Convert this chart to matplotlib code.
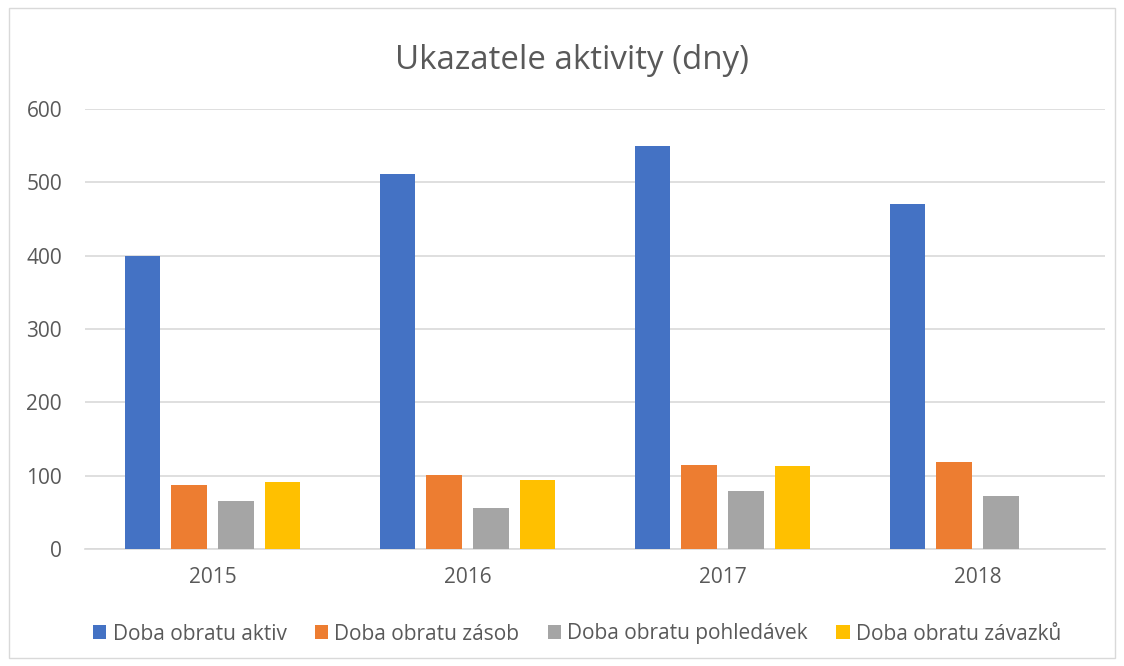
import numpy as np
import matplotlib.pyplot as plt
from matplotlib.patches import Rectangle

# data
years = ['2015', '2016', '2017', '2018']
series_names = ['Doba obratu aktiv', 'Doba obratu zásob',
                'Doba obratu pohledávek', 'Doba obratu závazků']
aktiv = [400, 512, 550, 470]
zasob = [87, 101, 114, 118]
pohledavek = [65, 56, 79, 72]
zavazku = [92, 94, 113, 0]
colors = ['#4472C4', '#ED7D31', '#A5A5A5', '#FFC000']

plt.rcParams['font.family'] = ['Open Sans', 'DejaVu Sans']
text_color = '#595959'

fig = plt.figure(figsize=(11.24, 6.66), dpi=100)
ax = fig.add_axes([85 / 1124, 1 - 549 / 666, 1020 / 1124, 440 / 666])

x = np.arange(len(years))
width = 0.141
stride = 0.183
values = [aktiv, zasob, pohledavek, zavazku]
for i, (name, vals, c) in enumerate(zip(series_names, values, colors)):
    offs = (i - 1.5) * stride
    ax.bar(x + offs, vals, width=width, color=c, label=name, zorder=3)

ax.set_xlim(-0.5, len(years) - 0.5)
ax.set_ylim(0, 600)
ax.set_yticks(range(0, 601, 100))
ax.set_xticks(x)
ax.set_xticklabels(years)
ax.grid(axis='y', color='#D9D9D9', linewidth=1.2, zorder=0)
for s in ['top', 'right', 'left']:
    ax.spines[s].set_visible(False)
ax.spines['bottom'].set_color('#D9D9D9')
ax.spines['bottom'].set_linewidth(1.2)
ax.tick_params(axis='both', length=0, labelsize=15, colors=text_color)
ax.tick_params(axis='y', pad=16.5)
ax.tick_params(axis='x', pad=13)

fig.text(572 / 1124, 1 - 69 / 666, 'Ukazatele aktivity (dny)', ha='center',
         va='baseline', fontsize=23.8, color=text_color)

leg_x = (577 - 85) / 1020
ax.legend(loc='center', bbox_to_anchor=(leg_x, (549 - 634) / 440), ncol=4,
          frameon=False, fontsize=15, handlelength=0.65, handleheight=0.65,
          handletextpad=0.3, columnspacing=1.35, labelcolor=text_color,
          borderpad=0, borderaxespad=0)

# light border around the chart
fig.patches.append(Rectangle((9 / 1124, 8 / 666), 1106 / 1124, 650 / 666,
                             transform=fig.transFigure, fill=False,
                             edgecolor='#D9D9D9', linewidth=1))

fig.savefig('out.png', dpi=100, facecolor='white')
